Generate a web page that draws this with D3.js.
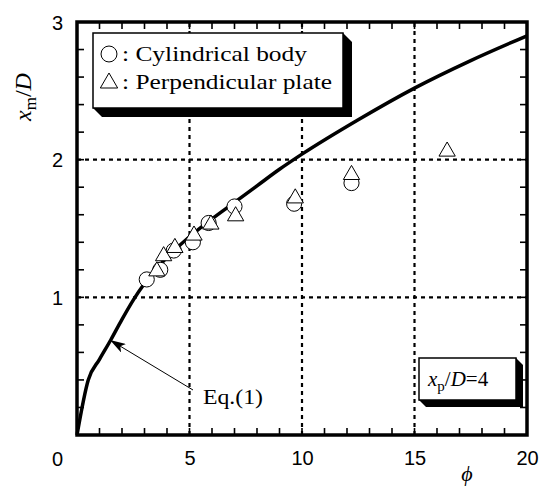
<!DOCTYPE html>
<html>
<head>
<meta charset="utf-8">
<script src="https://cdn.jsdelivr.net/npm/d3@7"></script>
<style>
  body { margin: 0; background: #fff; }
  svg text { fill: #000; }
</style>
</head>
<body>
<div id="chart"></div>
<script>
/* DATA */
const xTicksMajor = [5, 10, 15, 20];
const yTicksMajor = [1, 2, 3];
const gridX = [5, 10, 15];
const gridY = [1, 2];

// Eq.(1) curve
const curvePhi = [0, 0.5, 1.0, 1.5, 2.0, 2.5, 3.0, 4.0, 5.0, 6.0, 7.0, 8.0, 9.0, 10, 12.5, 15, 17.5, 20];
const curveX   = [0, 0.40, 0.55, 0.69, 0.84, 0.98, 1.10, 1.29, 1.44, 1.57, 1.69, 1.81, 1.93, 2.04, 2.29, 2.52, 2.72, 2.90];

// cylindrical body (circles)
const cylPhi = [3.1, 3.7, 4.3, 5.15, 5.85, 7.0, 9.65, 12.2];
const cylX   = [1.13, 1.20, 1.34, 1.40, 1.54, 1.66, 1.68, 1.83];

// perpendicular plate (triangles)
const platePhi = [3.55, 3.85, 4.35, 5.2, 5.95, 7.05, 9.7, 12.2, 16.45];
const plateX   = [1.19, 1.30, 1.36, 1.45, 1.53, 1.59, 1.72, 1.89, 2.06];

/* CONSTANTS */
const width = 541, height = 489;
const margin = { top: 22, bottom: 54, left: 77, right: 14 };
const serif = "'Liberation Serif', 'Times New Roman', serif";
const sans = "'Liberation Sans', Arial, sans-serif";

const svg = d3.select("#chart").append("svg")
  .attr("width", width)
  .attr("height", height);

const xScale = d3.scaleLinear().domain([0, 20]).range([margin.left, width - margin.right]);
const yScale = d3.scaleLinear().domain([0, 3]).range([height - margin.bottom, margin.top]);

const x0 = xScale(0), x1 = xScale(20), y0 = yScale(0), y1 = yScale(3);

/* GRID */
svg.append("g").selectAll("line")
  .data(gridX)
  .join("line")
  .attr("x1", d => xScale(d)).attr("x2", d => xScale(d))
  .attr("y1", y0).attr("y2", y1)
  .attr("stroke", "#000").attr("stroke-width", 2.2)
  .attr("stroke-dasharray", "4,4");

svg.append("g").selectAll("line")
  .data(gridY)
  .join("line")
  .attr("y1", d => yScale(d)).attr("y2", d => yScale(d))
  .attr("x1", x0).attr("x2", x1)
  .attr("stroke", "#000").attr("stroke-width", 2.2)
  .attr("stroke-dasharray", "4,4");

/* MINOR TICKS (inward, all four sides) */
const xMinor = d3.range(1, 20, 1);
const yMinor = d3.range(1, 15, 1).map(d => d * 0.2);
const tickLen = 7;

const ticks = svg.append("g").attr("stroke", "#000").attr("stroke-width", 1.6);
[y0, y1].forEach(yy => {
  ticks.append("g").selectAll("line")
    .data(xMinor)
    .join("line")
    .attr("x1", d => xScale(d)).attr("x2", d => xScale(d))
    .attr("y1", yy).attr("y2", yy === y0 ? yy - tickLen : yy + tickLen);
});
[x0, x1].forEach(xx => {
  ticks.append("g").selectAll("line")
    .data(yMinor)
    .join("line")
    .attr("y1", d => yScale(d)).attr("y2", d => yScale(d))
    .attr("x1", xx).attr("x2", xx === x0 ? xx + tickLen : xx - tickLen);
});

/* TICK LABELS */
const xLab = svg.append("g")
  .attr("transform", `translate(0,${y0})`)
  .call(d3.axisBottom(xScale).tickValues(xTicksMajor).tickFormat(d3.format("d")).tickSize(0).tickPadding(16));
xLab.select(".domain").remove();
xLab.selectAll("text").style("font-family", sans).style("font-size", "20px");

const yLab = svg.append("g")
  .attr("transform", `translate(${x0},0)`)
  .call(d3.axisLeft(yScale).tickValues(yTicksMajor).tickFormat(d3.format("d")).tickSize(0).tickPadding(14));
yLab.select(".domain").remove();
yLab.selectAll("text").style("font-family", sans).style("font-size", "20px")
  .attr("dy", "0.35em");

svg.append("text")
  .attr("x", x0 - 14).attr("y", y0 + 31)
  .attr("text-anchor", "end")
  .style("font-family", sans).style("font-size", "20px")
  .text("0");

/* CURVE Eq.(1) */
const line = d3.line()
  .x((d, i) => xScale(curvePhi[i]))
  .y(d => yScale(d))
  .curve(d3.curveMonotoneX);

svg.append("path")
  .datum(curveX)
  .attr("d", line)
  .attr("fill", "none")
  .attr("stroke", "#000")
  .attr("stroke-width", 3.5)
  .attr("stroke-linejoin", "round");

/* FRAME */
svg.append("rect")
  .attr("x", x0).attr("y", y1)
  .attr("width", x1 - x0).attr("height", y0 - y1)
  .attr("fill", "none")
  .attr("stroke", "#000")
  .attr("stroke-width", 3.5);

/* MARKERS */
const circleSym = d3.symbol().type(d3.symbolCircle).size(180);
const triSym = d3.symbol().type(d3.symbolTriangle).size(115);

svg.append("g").selectAll("path")
  .data(cylPhi)
  .join("path")
  .attr("d", circleSym)
  .attr("transform", (d, i) => `translate(${xScale(d)},${yScale(cylX[i])})`)
  .attr("fill", "#fff").attr("stroke", "#000").attr("stroke-width", 1);

svg.append("g").selectAll("path")
  .data(platePhi)
  .join("path")
  .attr("d", triSym)
  .attr("transform", (d, i) => `translate(${xScale(d)},${yScale(plateX[i])})`)
  .attr("fill", "#fff").attr("stroke", "#000").attr("stroke-width", 1);

/* 3D BOX helper */
function box(bx0, by0, bx1, by1, d) {
  svg.append("polygon")
    .attr("points", [[bx0, by1], [bx0 + d, by1 + d], [bx1 + d, by1 + d], [bx1 + d, by0 + d], [bx1, by0]].join(" "))
    .attr("fill", "#000");
  svg.append("rect")
    .attr("x", bx0).attr("y", by0)
    .attr("width", bx1 - bx0).attr("height", by1 - by0)
    .attr("fill", "#fff").attr("stroke", "#000").attr("stroke-width", 1.5);
}

/* LEGEND */
box(93, 33, 343, 108, 9);
svg.append("path").attr("d", circleSym.size(200)())
  .attr("transform", "translate(109,54)")
  .attr("fill", "#fff").attr("stroke", "#000").attr("stroke-width", 1);
svg.append("path").attr("d", triSym.size(130)())
  .attr("transform", "translate(109,83)")
  .attr("fill", "#fff").attr("stroke", "#000").attr("stroke-width", 1);
svg.append("text").attr("x", 122).attr("y", 61)
  .attr("textLength", 185).attr("lengthAdjust", "spacingAndGlyphs")
  .style("font-family", serif).style("font-size", "21px")
  .text(": Cylindrical body");
svg.append("text").attr("x", 122).attr("y", 89)
  .attr("textLength", 210).attr("lengthAdjust", "spacingAndGlyphs")
  .style("font-family", serif).style("font-size", "21px")
  .text(": Perpendicular plate");

/* x_p/D=4 BOX */
box(419, 358, 516, 400, 7);
const xp = svg.append("text").attr("x", 428).attr("y", 386)
  .style("font-family", serif).style("font-size", "21px");
xp.append("tspan").style("font-style", "italic").text("x");
xp.append("tspan").attr("dy", 5).style("font-size", "15px").text("p");
xp.append("tspan").attr("dy", -5).text("/");
xp.append("tspan").style("font-style", "italic").text("D");
xp.append("tspan").text("=4");

/* Eq.(1) ANNOTATION */
svg.append("defs").append("marker")
  .attr("id", "arrow")
  .attr("viewBox", "0 0 16 10")
  .attr("refX", 16).attr("refY", 5)
  .attr("markerWidth", 16).attr("markerHeight", 10)
  .attr("markerUnits", "userSpaceOnUse")
  .attr("orient", "auto")
  .append("path")
  .attr("d", "M0,0 L16,5 L0,10 L4,5 Z")
  .attr("fill", "#000");

svg.append("line")
  .attr("x1", 193).attr("y1", 390)
  .attr("x2", 110).attr("y2", 340)
  .attr("stroke", "#000").attr("stroke-width", 1)
  .attr("marker-end", "url(#arrow)");

svg.append("text").attr("x", 203).attr("y", 404)
  .attr("textLength", 60).attr("lengthAdjust", "spacingAndGlyphs")
  .style("font-family", serif).style("font-size", "21px")
  .text("Eq.(1)");

/* AXIS TITLES */
svg.append("text")
  .attr("x", 467).attr("y", 481)
  .attr("text-anchor", "middle")
  .style("font-family", serif).style("font-size", "22px").style("font-style", "italic")
  .text("\u03D5");

const yt = svg.append("text")
  .attr("transform", "translate(31,97) rotate(-90)")
  .attr("text-anchor", "middle")
  .style("font-family", serif).style("font-size", "24px");
yt.append("tspan").style("font-style", "italic").text("x");
yt.append("tspan").attr("dy", 5).style("font-size", "17px").text("m");
yt.append("tspan").attr("dy", -5).text("/");
yt.append("tspan").style("font-style", "italic").text("D");
</script>
</body>
</html>
